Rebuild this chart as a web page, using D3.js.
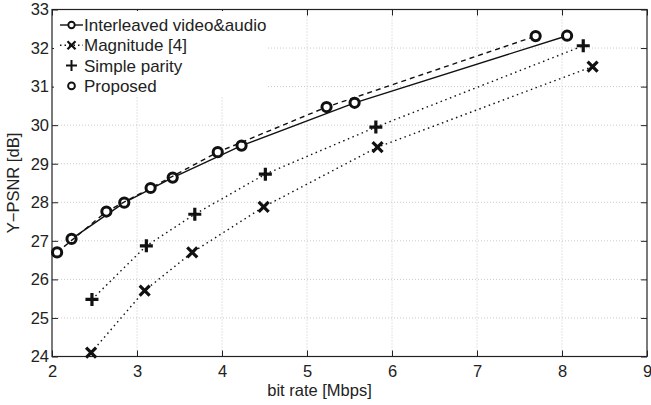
<!DOCTYPE html>
<html>
<head>
<meta charset="utf-8">
<script src="https://cdn.jsdelivr.net/npm/d3@7"></script>
<style>
  body { margin: 0; background: #fff; }
  text { font-family: "Liberation Sans", Arial, sans-serif; fill: #222; }
</style>
</head>
<body>
<div id="chart"></div>
<script>
// values
const interleavedX = [2.23, 2.85, 3.42, 4.23, 5.56, 8.06]
const interleavedY = [27.05, 27.99, 28.64, 29.47, 30.58, 32.32]
const proposedX = [2.06, 2.64, 3.16, 3.95, 5.23, 7.69]
const proposedY = [26.70, 27.76, 28.37, 29.30, 30.47, 32.31]
const parityX = [2.47, 3.11, 3.68, 4.51, 5.81, 8.25]
const parityY = [25.48, 26.87, 27.69, 28.73, 29.95, 32.06]
const magnitudeX = [2.46, 3.09, 3.65, 4.49, 5.83, 8.36]
const magnitudeY = [24.10, 25.71, 26.70, 27.88, 29.43, 31.52]
const xTicks = [2, 3, 4, 5, 6, 7, 8, 9]
const yTicks = [24, 25, 26, 27, 28, 29, 30, 31, 32, 33]
const legendLabels = ["Interleaved video&audio", "Magnitude [4]", "Simple parity", "Proposed"]

const W = 651, H = 405
const M = { left: 52, right: 4, top: 9.5, bottom: 48.5 }

const svg = d3.select("#chart").append("svg")
    .attr("width", W)
    .attr("height", H)

const x = d3.scaleLinear().domain([2, 9]).range([M.left, W - M.right])
const y = d3.scaleLinear().domain([24, 33]).range([H - M.bottom, M.top])

const zip = (xs, ys) => xs.map((v, i) => [v, ys[i]])

// grid
svg.append("g").selectAll("line").data(xTicks.slice(1, -1)).join("line")
    .attr("x1", d => x(d)).attr("x2", d => x(d))
    .attr("y1", y(24)).attr("y2", y(33))
    .attr("stroke", "#bbb").attr("stroke-width", 0.8).attr("stroke-dasharray", "1,2")
svg.append("g").selectAll("line").data(yTicks.slice(1, -1)).join("line")
    .attr("x1", x(2)).attr("x2", x(9))
    .attr("y1", d => y(d)).attr("y2", d => y(d))
    .attr("stroke", "#bbb").attr("stroke-width", 0.8).attr("stroke-dasharray", "1,2")

// axes with inward ticks
const tickStyle = g => {
    g.select(".domain").remove()
    g.selectAll(".tick line").attr("stroke", "#222")
    g.selectAll(".tick text").style("font-size", "16.5px").attr("fill", "#222")
}
svg.append("g").attr("transform", `translate(0,${y(24)})`)
    .call(d3.axisBottom(x).tickValues(xTicks).tickSize(-6).tickPadding(9).tickFormat(d3.format("d")))
    .call(tickStyle)
svg.append("g").attr("transform", `translate(0,${y(33)})`)
    .call(d3.axisTop(x).tickValues(xTicks).tickSize(-6).tickFormat(""))
    .call(tickStyle)
svg.append("g").attr("transform", `translate(${x(2)},0)`)
    .call(d3.axisLeft(y).tickValues(yTicks).tickSize(-6).tickPadding(3))
    .call(tickStyle)
svg.append("g").attr("transform", `translate(${x(9)},0)`)
    .call(d3.axisRight(y).tickValues(yTicks).tickSize(-6).tickFormat(""))
    .call(tickStyle)

svg.append("rect")
    .attr("x", x(2)).attr("y", y(33))
    .attr("width", x(9) - x(2)).attr("height", y(24) - y(33))
    .attr("fill", "none").attr("stroke", "#222").attr("stroke-width", 1.2)

// series
const line = d3.line().x(d => x(d[0])).y(d => y(d[1]))
const series = [
    { pts: zip(interleavedX, interleavedY), dash: null, width: 1.4, marker: "circle" },
    { pts: zip(magnitudeX, magnitudeY), dash: "1.5,3.5", width: 1.4, marker: "cross" },
    { pts: zip(parityX, parityY), dash: "1.5,3.5", width: 1.4, marker: "plus" },
    { pts: zip(proposedX, proposedY), dash: "5,4", width: 1.4, marker: "circle" }
]

function drawMarker(g, type, cx, cy) {
    if (type === "circle") {
        g.append("circle").attr("cx", cx).attr("cy", cy).attr("r", 4.6)
            .attr("fill", "#fff").attr("stroke", "#111").attr("stroke-width", 3)
    } else if (type === "plus") {
        const s = 6.5
        g.append("path").attr("d", `M${cx - s},${cy}H${cx + s}M${cx},${cy - s}V${cy + s}`)
            .attr("stroke", "#111").attr("stroke-width", 3.2).attr("fill", "none")
    } else {
        const s = 5
        g.append("path").attr("d", `M${cx - s},${cy - s}L${cx + s},${cy + s}M${cx - s},${cy + s}L${cx + s},${cy - s}`)
            .attr("stroke", "#111").attr("stroke-width", 3.2).attr("fill", "none")
    }
}

series.forEach(s => {
    svg.append("path").datum(s.pts)
        .attr("d", line)
        .attr("fill", "none")
        .attr("stroke", "#111")
        .attr("stroke-width", s.width)
        .attr("stroke-dasharray", s.dash)
    const g = svg.append("g")
    s.pts.forEach(p => drawMarker(g, s.marker, x(p[0]), y(p[1])))
})

// legend
const lg = svg.append("g")
lg.append("rect").attr("x", 54).attr("y", 11).attr("width", 214).attr("height", 86).attr("fill", "#fff")
const legendRows = [
    { dash: null, marker: "circle", line: true },
    { dash: "1.5,3", marker: "cross", line: true },
    { dash: null, marker: "plus", line: false },
    { dash: null, marker: "circle", line: false }
]
legendRows.forEach((r, i) => {
    const ly = 25 + i * 20.3
    if (r.line) {
        lg.append("line").attr("x1", 60).attr("x2", 83).attr("y1", ly).attr("y2", ly)
            .attr("stroke", "#111").attr("stroke-width", 1.4).attr("stroke-dasharray", r.dash)
    }
    const mg = lg.append("g")
    if (r.marker === "circle") {
        mg.append("circle").attr("cx", 71.5).attr("cy", ly).attr("r", r.line ? 3.2 : 3.4)
            .attr("fill", "#fff").attr("stroke", "#111").attr("stroke-width", 1.9)
    } else if (r.marker === "plus") {
        const s = 5.5
        mg.append("path").attr("d", `M${71.5 - s},${ly}H${71.5 + s}M71.5,${ly - s}V${ly + s}`)
            .attr("stroke", "#111").attr("stroke-width", 2).attr("fill", "none")
    } else {
        const s = 4
        mg.append("path").attr("d", `M${71.5 - s},${ly - s}L${71.5 + s},${ly + s}M${71.5 - s},${ly + s}L${71.5 + s},${ly - s}`)
            .attr("stroke", "#111").attr("stroke-width", 2.2).attr("fill", "none")
    }
    lg.append("text").attr("x", 84).attr("y", ly + 6)
        .style("font-size", "17px")
        .text(legendLabels[i])
})

// axis titles
svg.append("text")
    .attr("x", (x(2) + x(9)) / 2 - 30).attr("y", 396)
    .attr("text-anchor", "middle")
    .style("font-size", "16.5px")
    .text("bit rate [Mbps]")
svg.append("text")
    .attr("transform", `translate(19,${(y(24) + y(33)) / 2}) rotate(-90)`)
    .attr("text-anchor", "middle")
    .style("font-size", "16.5px")
    .text("Y\u2212PSNR [dB]")
</script>
</body>
</html>
